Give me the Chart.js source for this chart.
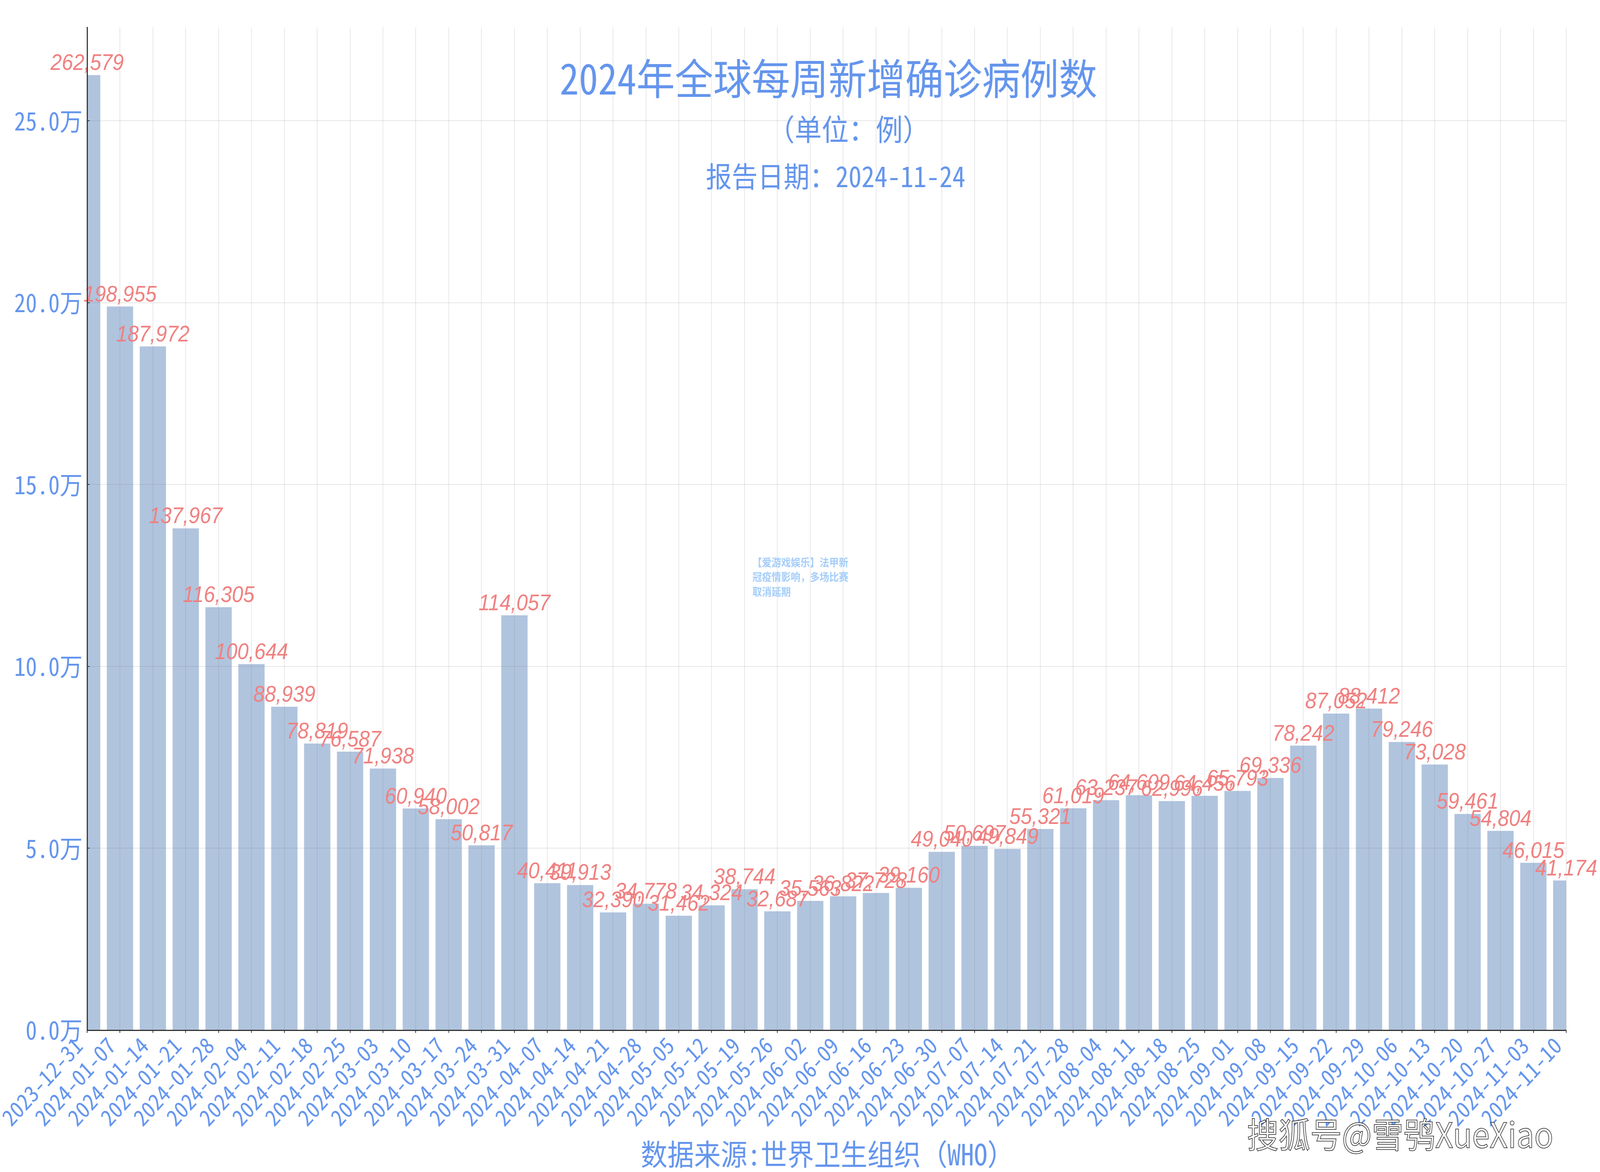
<!DOCTYPE html>
<html>
<head>
<meta charset="utf-8">
<title>2024年全球每周新增确诊病例数</title>
<script src="https://cdn.jsdelivr.net/npm/chart.js@4"></script>
<style>
    html, body { margin: 0; padding: 0; background: #ffffff; overflow: hidden; }
    /* window can come up narrower than 4500, keep the whole 4500x3000 drawing on screen */
    #chart { display: block; width: 100vw !important; height: 100vh !important; }
</style>
</head>
<body>
<canvas id="chart" width="4500" height="3000"></canvas>
<script>
const weeks = ['2023-12-31','2024-01-07','2024-01-14','2024-01-21','2024-01-28','2024-02-04','2024-02-11','2024-02-18','2024-02-25','2024-03-03','2024-03-10','2024-03-17','2024-03-24','2024-03-31','2024-04-07','2024-04-14','2024-04-21','2024-04-28','2024-05-05','2024-05-12','2024-05-19','2024-05-26','2024-06-02','2024-06-09','2024-06-16','2024-06-23','2024-06-30','2024-07-07','2024-07-14','2024-07-21','2024-07-28','2024-08-04','2024-08-11','2024-08-18','2024-08-25','2024-09-01','2024-09-08','2024-09-15','2024-09-22','2024-09-29','2024-10-06','2024-10-13','2024-10-20','2024-10-27','2024-11-03','2024-11-10'];
const newCases = [262579,198955,187972,137967,116305,100644,88939,78819,76587,71938,60940,58002,50817,114057,40411,39913,32390,34778,31462,34324,38744,32687,35563,36822,37728,39160,49040,50697,49849,55321,61019,63237,64609,62996,64456,65793,69336,78242,87052,88412,79246,73028,59461,54804,46015,41174];
const yTickValues = [0,50000,100000,150000,200000,250000];

const blue = '#6495ed';
const coral = '#f08080';
const cjkFont = '"Noto Sans Mono CJK SC", "Noto Sans CJK SC", sans-serif';

// bar value labels, same sloped font as the reference
const valueLabels = {
    id: 'valueLabels',
    afterDatasetsDraw(chart) {
        const ctx = chart.ctx;
        const bars = chart.getDatasetMeta(0).data;
        ctx.save();
        ctx.font = 'italic 57px "Liberation Sans", sans-serif';
        ctx.fillStyle = coral;
        ctx.textAlign = 'center';
        ctx.textBaseline = 'alphabetic';
        bars.forEach((bar, i) => {
            ctx.fillText(newCases[i].toLocaleString('en-US'), bar.x, bar.y - 13);
        });
        ctx.restore();
    }
};

// title block, source line and the two overlays
const pageText = {
    id: 'pageText',
    afterDraw(chart) {
        const ctx = chart.ctx;
        ctx.save();
        ctx.textBaseline = 'alphabetic';
        ctx.textAlign = 'center';
        ctx.fillStyle = blue;
        ctx.font = '108px ' + cjkFont;
        ctx.fillText('2024年全球每周新增确诊病例数', 2330, 242);
        ctx.font = '76px ' + cjkFont;
        ctx.fillText('（单位：例）', 2387, 360);
        ctx.font = '73px ' + cjkFont;
        ctx.fillText('报告日期：2024-11-24', 2350, 479);
        ctx.font = '75px ' + cjkFont;
        ctx.fillText('数据来源:世界卫生组织（WHO）', 2327, 2983);

        ctx.textAlign = 'left';
        ctx.fillStyle = '#a3cdfa';
        ctx.font = 'bold 27px "Noto Sans CJK SC", sans-serif';
        ctx.fillText('【爱游戏娱乐】法甲新', 2116, 1450);
        ctx.fillText('冠疫情影响，多场比赛', 2116, 1487);
        ctx.fillText('取消延期', 2116, 1525);

        ctx.font = '89px "Noto Sans CJK SC", sans-serif';
        ctx.lineWidth = 1.5;
        ctx.strokeStyle = '#222222';
        ctx.fillStyle = '#ffffff';
        ctx.fillText('搜狐号@雪鸮XueXiao', 3507, 2938);
        ctx.strokeText('搜狐号@雪鸮XueXiao', 3507, 2938);
        ctx.restore();
    }
};

new Chart(document.getElementById('chart'), {
    type: 'bar',
    data: {
        labels: weeks,
        datasets: [{
            data: newCases,
            backgroundColor: '#b0c4de',
            barPercentage: 0.8,
            categoryPercentage: 1
        }]
    },
    plugins: [valueLabels, pageText],
    options: {
        responsive: false,
        animation: false,
        devicePixelRatio: 1,
        layout: { padding: { top: 70, right: 95, left: 0, bottom: 0 } },
        plugins: {
            legend: { display: false },
            title: { display: false },
            tooltip: { enabled: false }
        },
        scales: {
            x: {
                offset: false,
                afterFit: s => { s.height = 363; },
                grid: { z: 1, color: 'rgba(128,128,128,0.2)', lineWidth: 2, tickColor: '#333333', tickWidth: 2, tickLength: 7, offset: false },
                border: { color: '#333333', width: 3, z: 2 },
                ticks: {
                    color: blue,
                    font: { family: cjkFont, size: 58 },
                    autoSkip: false,
                    minRotation: 45,
                    maxRotation: 45,
                    labelOffset: -24,
                    padding: -3
                }
            },
            y: {
                min: 0,
                max: 275708,
                afterFit: s => { s.width = 245; },
                afterBuildTicks: s => { s.ticks = yTickValues.map(value => ({ value })); },
                grid: { z: 1, color: 'rgba(128,128,128,0.2)', lineWidth: 2, tickColor: '#333333', tickWidth: 2, tickLength: -7 },
                border: { color: '#333333', width: 3, z: 2 },
                ticks: {
                    color: blue,
                    font: { family: cjkFont, size: 64 },
                    padding: 20,
                    callback: v => (v / 10000).toFixed(1) + '万'
                }
            }
        }
    }
});
</script>
</body>
</html>
